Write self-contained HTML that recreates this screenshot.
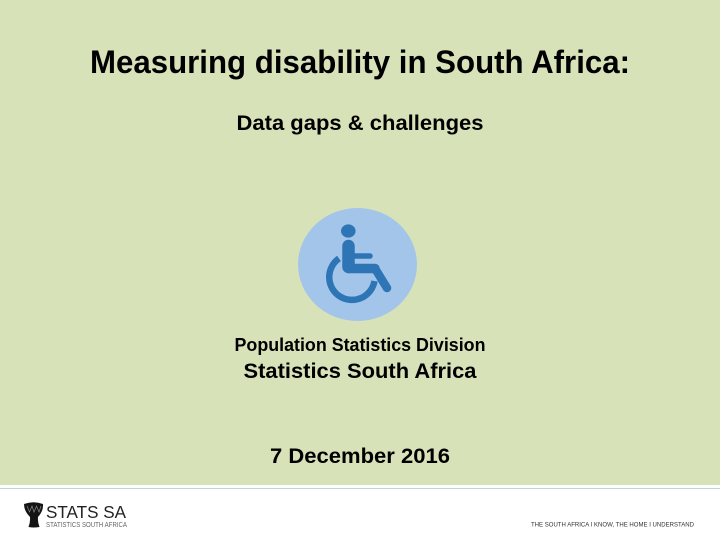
<!DOCTYPE html>
<html>
<head>
<meta charset="utf-8">
<style>
html,body{margin:0;padding:0;width:720px;height:540px;overflow:hidden;background:#fff}
svg{display:block}
text{font-family:"Liberation Sans",sans-serif}
.soft{filter:blur(0.35px)}
</style>
</head>
<body>
<svg width="720" height="540" viewBox="0 0 720 540">
  <rect x="0" y="0" width="720" height="485" fill="#d8e2b9"/>
  <rect x="0" y="485" width="720" height="55" fill="#ffffff"/>
  <rect x="0" y="488" width="720" height="1" fill="#bcd6e0"/>

  <text x="360" y="73" text-anchor="middle" font-size="32.5" font-weight="bold" fill="#000" textLength="540" lengthAdjust="spacingAndGlyphs">Measuring disability in South Africa:</text>
  <text x="360" y="130" text-anchor="middle" font-size="21.3" font-weight="bold" fill="#000" textLength="247" lengthAdjust="spacingAndGlyphs">Data gaps &amp; challenges</text>

  <g>
    <ellipse cx="357.5" cy="264.5" rx="59.5" ry="56.5" fill="#a4c5ea"/>
    <ellipse cx="348.3" cy="231" rx="7.3" ry="6.6" fill="#2e75b6"/>
    <path d="M348.5 246 V267" fill="none" stroke="#2e75b6" stroke-width="12.5" stroke-linecap="round"/>
    <path d="M349 268.5 H375" fill="none" stroke="#2e75b6" stroke-width="9.5" stroke-linecap="round"/>
    <path d="M375 268.5 L387 288" fill="none" stroke="#2e75b6" stroke-width="8.5" stroke-linecap="round"/>
    <path d="M353 256 H370" fill="none" stroke="#2e75b6" stroke-width="5.5" stroke-linecap="round"/>
    <path d="M339 258.4 A 22.8 22.8 0 1 0 374.5 281" fill="none" stroke="#2e75b6" stroke-width="6.5"/>
  </g>

  <text x="360" y="351" text-anchor="middle" font-size="18" font-weight="bold" fill="#000" textLength="251" lengthAdjust="spacingAndGlyphs">Population Statistics Division</text>
  <text x="360" y="378" text-anchor="middle" font-size="21.3" font-weight="bold" fill="#000" textLength="233" lengthAdjust="spacingAndGlyphs">Statistics South Africa</text>
  <text x="360" y="463" text-anchor="middle" font-size="21.3" font-weight="bold" fill="#000" textLength="180" lengthAdjust="spacingAndGlyphs">7 December 2016</text>

  <g class="soft">
    <path d="M24 504 Q33.5 500.5 43 504 Q43.5 511 38 517 Q37.5 522 39.5 527 Q33.5 528 28.5 527 Q30.5 522 30 517 Q24 511 24 504 Z" fill="#141414"/>
    <path d="M27 506 L29.5 512 L32 506 L34 512 L36.5 506 L39 512 L41 506" fill="none" stroke="#8a8a8a" stroke-width="0.7"/>
    <text x="46" y="518" font-size="17.5" fill="#222" textLength="80" lengthAdjust="spacingAndGlyphs">STATS SA</text>
    <text x="46" y="527" font-size="7.5" fill="#666" textLength="81" lengthAdjust="spacingAndGlyphs">STATISTICS SOUTH AFRICA</text>
  </g>
  <text class="soft" x="531" y="526.5" font-size="6.6" fill="#333" textLength="163" lengthAdjust="spacingAndGlyphs">THE SOUTH AFRICA I KNOW, THE HOME I UNDERSTAND</text>
</svg>
</body>
</html>
